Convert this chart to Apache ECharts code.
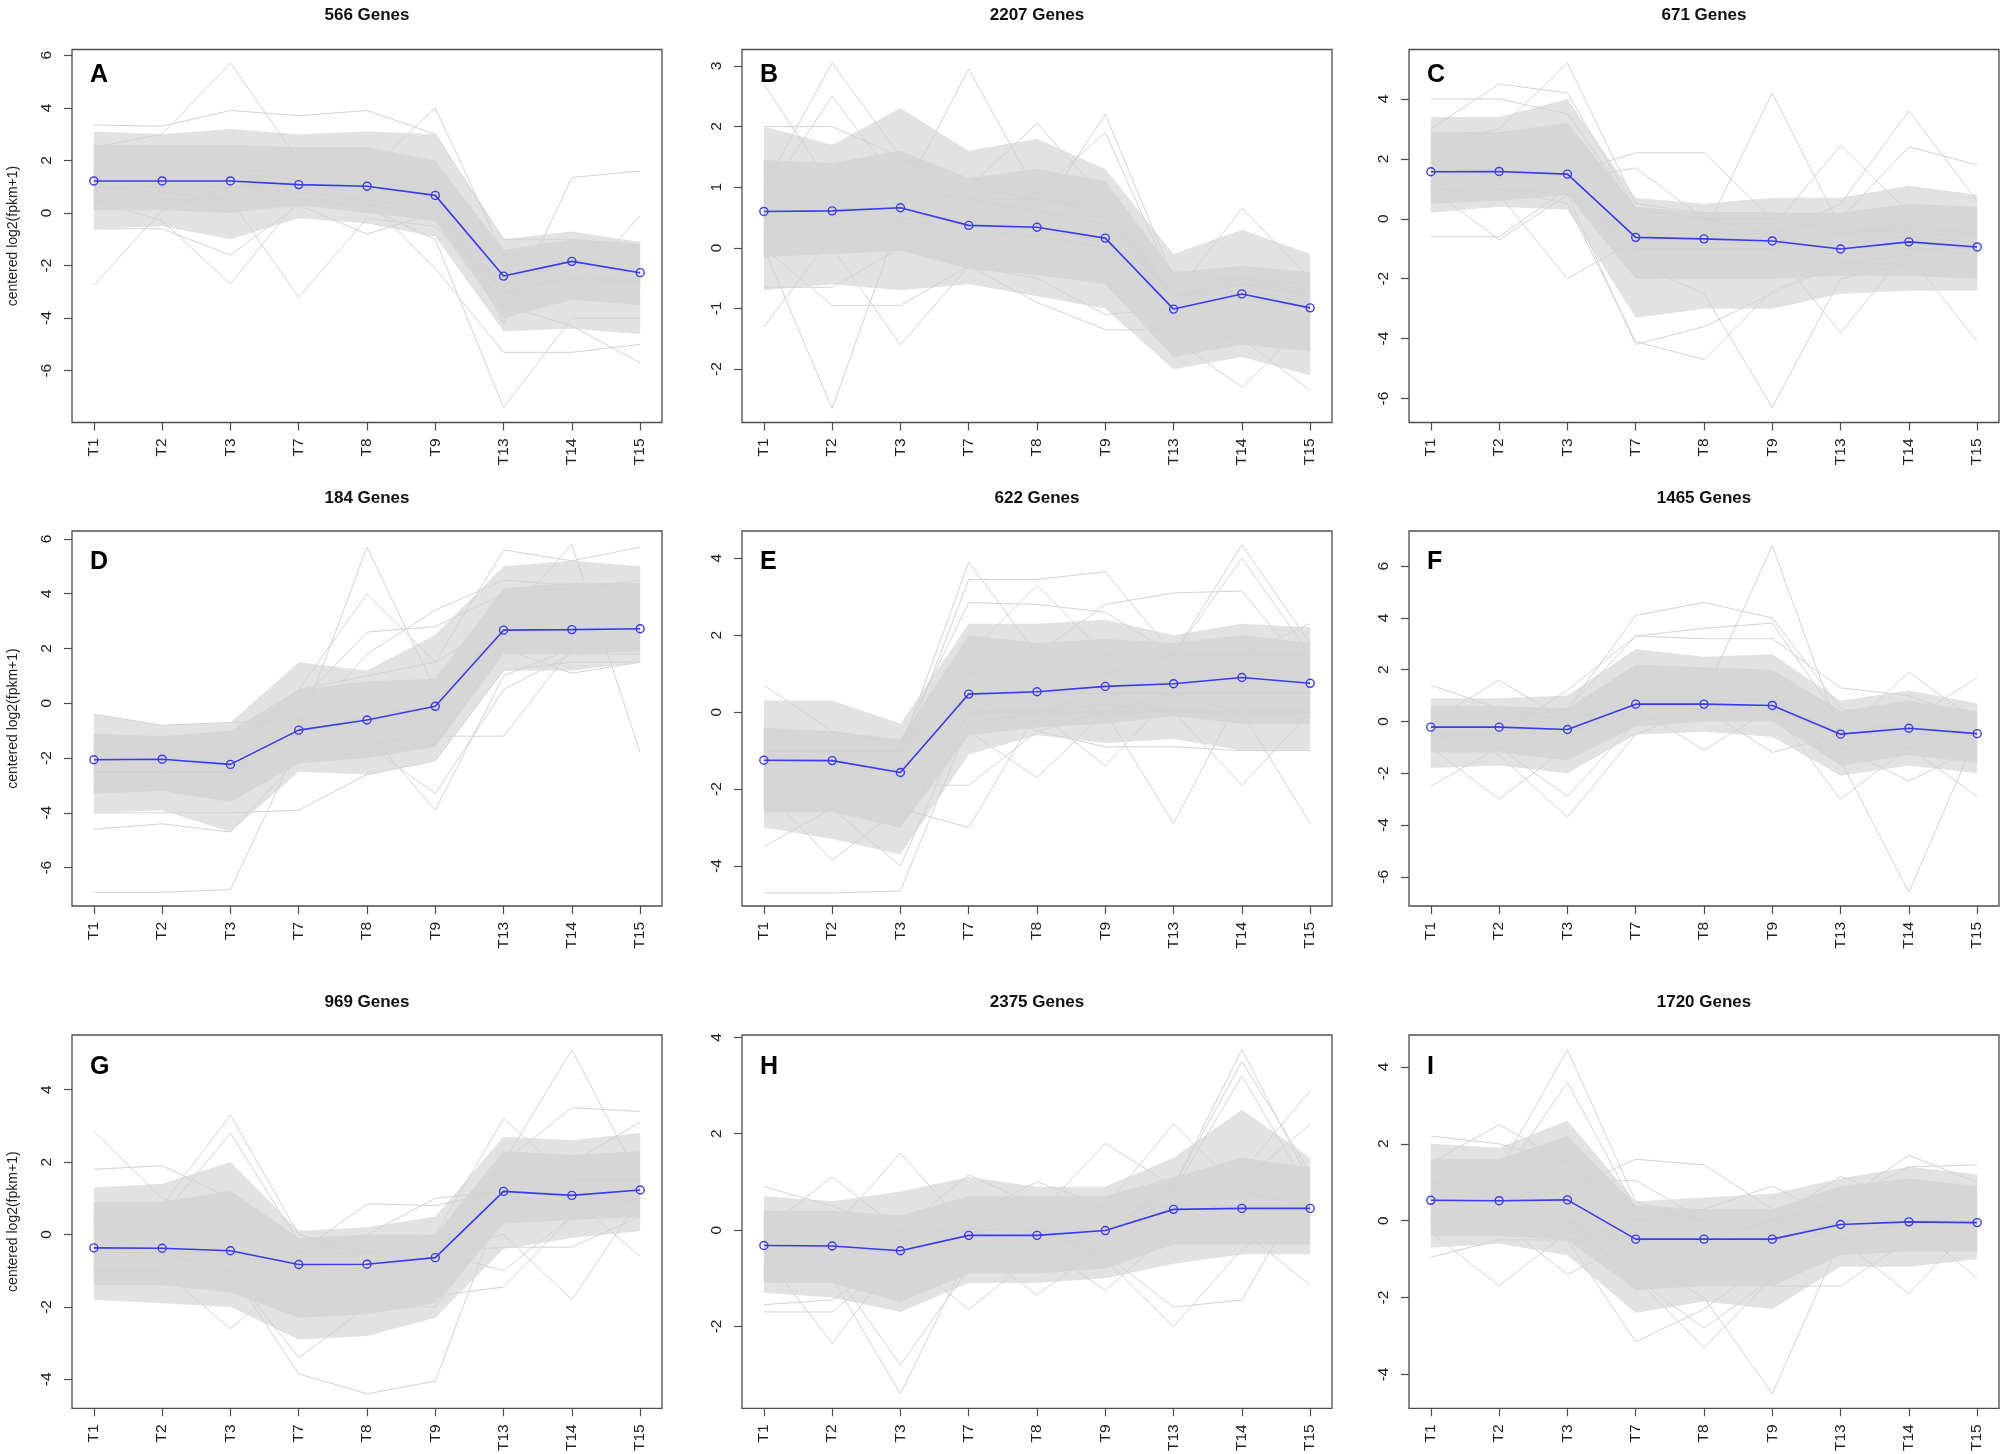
<!DOCTYPE html>
<html>
<head>
<meta charset="utf-8">
<script src="https://cdn.jsdelivr.net/npm/echarts@6/dist/echarts.min.js"></script>
<style>
  html, body { margin: 0; padding: 0; background: #fff; }
  #main { width: 2008px; height: 1454px; }
</style>
</head>
<body>
<div id="main"></div>
<script>
// time points and panel labels
const cats = ['T1', 'T2', 'T3', 'T7', 'T8', 'T9', 'T13', 'T14', 'T15'];
const geneCounts = [566, 2207, 671, 184, 622, 1465, 969, 2375, 1720];
const letters = ['A', 'B', 'C', 'D', 'E', 'F', 'G', 'H', 'I'];
const yMin = [-7.97, -2.88, -6.80, -7.40, -5.04, -7.13, -4.80, -3.70, -4.88];
const yMax = [6.22, 3.27, 5.65, 6.29, 4.71, 7.36, 5.51, 4.05, 4.83];
const yTicks = [
  [-6, -4, -2, 0, 2, 4, 6], [-2, -1, 0, 1, 2, 3], [-6, -4, -2, 0, 2, 4],
  [-6, -4, -2, 0, 2, 4, 6], [-4, -2, 0, 2, 4], [-6, -4, -2, 0, 2, 4, 6],
  [-4, -2, 0, 2, 4], [-2, 0, 2, 4], [-4, -2, 0, 2, 4]
];

// cluster mean profiles (blue)
const meanA = [1.22, 1.22, 1.22, 1.08, 1.02, 0.67, -2.40, -1.84, -2.27];
const meanB = [0.60, 0.61, 0.66, 0.37, 0.34, 0.16, -1.01, -0.76, -0.99];
const meanC = [1.57, 1.58, 1.49, -0.62, -0.67, -0.74, -1.01, -0.77, -0.94];
const meanD = [-2.06, -2.04, -2.23, -0.98, -0.61, -0.11, 2.67, 2.69, 2.72];
const meanE = [-1.25, -1.26, -1.57, 0.47, 0.53, 0.67, 0.74, 0.90, 0.75];
const meanF = [-0.22, -0.22, -0.31, 0.67, 0.67, 0.62, -0.49, -0.26, -0.47];
const meanG = [-0.37, -0.38, -0.45, -0.83, -0.82, -0.64, 1.19, 1.08, 1.23];
const meanH = [-0.32, -0.33, -0.43, -0.11, -0.11, -0.01, 0.43, 0.45, 0.45];
const meanI = [0.53, 0.52, 0.54, -0.48, -0.48, -0.48, -0.10, -0.03, -0.05];

// dense grey core of gene profiles (upper / lower edge)
const coreHiA = [2.6, 2.6, 2.6, 2.5, 2.5, 2.0, -1.4, -1.0, -1.2];
const coreLoA = [0.1, 0.1, 0.0, 0.3, 0.0, -0.3, -4.0, -3.3, -3.5];
const coreHiB = [1.45, 1.4, 1.6, 1.15, 1.3, 1.1, -0.4, -0.3, -0.4];
const coreLoB = [-0.15, -0.1, -0.05, -0.35, -0.45, -0.6, -1.8, -1.6, -1.7];
const coreHiC = [2.9, 2.9, 3.2, 0.4, 0.2, 0.2, 0.2, 0.5, 0.4];
const coreLoC = [0.5, 0.6, 0.8, -2.0, -2.0, -2.0, -1.9, -1.9, -2.0];
const coreHiD = [-1.1, -1.2, -1.0, 0.5, 0.8, 0.9, 4.2, 4.4, 4.4];
const coreLoD = [-3.3, -3.2, -3.6, -2.2, -2.0, -1.6, 1.8, 1.8, 1.9];
const coreHiE = [-0.4, -0.5, -0.7, 2.0, 1.8, 1.9, 1.8, 2.0, 1.8];
const coreLoE = [-2.6, -2.6, -3.0, -0.6, -0.4, -0.3, -0.1, -0.3, -0.3];
const coreHiF = [0.6, 0.6, 0.5, 2.2, 2.1, 2.0, 0.4, 0.8, 0.4];
const coreLoF = [-1.2, -1.2, -1.5, -0.2, 0.0, 0.0, -1.7, -1.3, -1.6];
const coreHiG = [0.9, 0.9, 1.2, -0.1, 0.0, 0.0, 2.3, 2.2, 2.3];
const coreLoG = [-1.4, -1.4, -1.6, -2.3, -2.2, -1.9, 0.3, 0.4, 0.5];
const coreHiH = [0.4, 0.4, 0.3, 0.7, 0.7, 0.7, 1.1, 1.5, 1.3];
const coreLoH = [-1.1, -1.1, -1.5, -0.9, -0.9, -0.8, -0.3, -0.3, -0.3];
const coreHiI = [1.6, 1.6, 2.2, 0.4, 0.3, 0.3, 0.9, 1.1, 0.9];
const coreLoI = [-0.4, -0.4, -0.5, -1.8, -1.7, -1.7, -0.9, -0.8, -0.8];

// thinner fringe around the core
const fringeHiA = [3.1, 3.0, 3.2, 3.0, 3.1, 3.0, -1.0, -0.7, -1.1];
const fringeLoA = [-0.6, -0.5, -1.0, -0.2, -0.4, -0.9, -4.5, -4.4, -4.6];
const fringeHiB = [2.0, 1.7, 2.3, 1.6, 1.8, 1.3, -0.1, 0.3, -0.1];
const fringeLoB = [-0.7, -0.6, -0.7, -0.6, -0.8, -1.0, -2.0, -1.8, -2.1];
const fringeHiC = [3.4, 3.4, 4.0, 0.7, 0.5, 0.7, 0.7, 1.1, 0.8];
const fringeLoC = [0.2, 0.4, 0.3, -3.3, -3.0, -3.0, -2.5, -2.4, -2.4];
const fringeHiD = [-0.4, -0.8, -0.7, 1.5, 1.2, 2.5, 5.0, 5.2, 5.0];
const fringeLoD = [-4.0, -3.9, -4.7, -2.5, -2.6, -2.1, 1.2, 1.2, 1.5];
const fringeHiE = [0.3, 0.3, -0.3, 2.3, 2.3, 2.4, 2.0, 2.3, 2.2];
const fringeLoE = [-3.0, -3.3, -3.7, -1.1, -0.6, -0.8, -0.7, -1.0, -1.0];
const fringeHiF = [0.9, 0.9, 1.0, 2.8, 2.5, 2.6, 0.8, 1.2, 0.7];
const fringeLoF = [-1.8, -1.7, -2.0, -0.5, -0.4, -0.6, -2.1, -1.7, -2.0];
const fringeHiG = [1.3, 1.4, 2.0, 0.1, 0.2, 0.5, 2.7, 2.6, 2.8];
const fringeLoG = [-1.8, -1.9, -2.0, -2.9, -2.8, -2.3, -0.4, -0.1, 0.1];
const fringeHiH = [0.7, 0.6, 0.8, 1.1, 0.9, 0.9, 1.5, 2.5, 1.5];
const fringeLoH = [-1.3, -1.4, -1.7, -1.1, -1.1, -1.0, -0.7, -0.5, -0.5];
const fringeHiI = [2.0, 1.9, 2.6, 0.5, 0.6, 0.7, 1.1, 1.4, 1.2];
const fringeLoI = [-0.7, -0.6, -0.9, -2.4, -2.1, -2.3, -1.2, -1.2, -1.0];

// individual outlying gene profiles
const linesA = [
  [-2.75, 0.1, 1.0, 1.2, 1.0, 0.6, -2.5, -2.0, -2.3],
  [2.5, 3.0, 5.7, 2.0, 2.2, 1.5, -2.0, -1.8, -2.0],
  [0.5, -0.3, -2.7, 0.5, 0.5, 0.2, -2.8, -2.5, -2.6],
  [1.0, 0.8, 0.5, -3.2, -0.2, -0.5, -3.0, -2.5, -2.7],
  [3.35, 3.3, 3.9, 3.7, 3.9, 3.0, -1.0, -1.0, -1.2],
  [1.5, 1.5, 1.5, 1.8, 1.5, 4.0, -1.6, -1.5, -1.5],
  [0.5, 0.5, 0.5, 0.5, 0.2, -1.0, -7.4, -4.0, -4.0],
  [1.0, 1.0, 1.0, 0.8, 0.5, -2.1, -5.3, -5.3, -5.0],
  [1.5, 1.5, 1.5, 1.3, 1.2, 0.8, -4.2, 1.35, 1.6],
  [0.5, 0.5, 0.5, 0.5, 0.3, 0.0, -3.5, -4.3, -5.7],
  [1.0, 1.0, 1.0, 1.0, 0.8, 0.5, -3.0, -3.0, -0.1],
  [-0.6, -0.6, -1.6, 0.3, -0.8, 0.0, -3.0, -2.5, -2.5]
];
const linesB = [
  [2.7, 1.0, 1.5, 0.8, 0.6, 0.5, -0.8, -0.6, -0.8],
  [1.0, 3.05, 1.5, 1.0, 0.8, 0.6, -0.8, -0.5, -0.8],
  [0.8, 2.5, 1.0, 0.8, 0.6, 0.4, -0.8, -0.6, -0.8],
  [0.0, -2.65, 0.5, 0.3, 0.2, 0.0, -1.0, -0.8, -1.0],
  [-1.3, 0.2, 0.3, 0.2, 0.2, 0.0, -1.0, -0.8, -1.0],
  [0.2, 0.0, -1.6, -0.3, -0.2, -0.2, -1.2, -1.0, -1.2],
  [0.5, 0.5, 0.8, 2.95, 0.9, 0.5, -1.0, -0.8, -1.0],
  [0.5, 0.5, 0.5, 1.0, 2.05, 0.8, -0.8, -0.7, -0.9],
  [0.5, 0.5, 0.5, 0.5, 0.5, 2.2, -0.5, -0.5, -0.7],
  [0.4, 0.4, 0.4, 0.4, 0.9, 1.9, -0.6, -0.5, -0.6],
  [0.6, 0.6, 0.6, 0.4, 0.3, 0.1, -0.8, 0.65, -0.5],
  [0.6, 0.6, 0.6, 0.4, 0.3, 0.1, -1.5, -2.3, -1.2],
  [0.6, 0.6, 0.6, 0.4, 0.3, 0.1, -1.5, -1.5, -2.35],
  [0.0, -0.95, -0.95, -0.3, -0.9, -1.35, -1.35, -1.5, -1.5],
  [2.0, 2.0, 1.5, 0.8, 0.8, 0.7, -0.8, -0.6, -0.8],
  [-0.65, -0.65, 0.0, -0.3, -0.5, -1.1, -1.0, -1.2, -1.3]
];
const linesC = [
  [4.0, 4.0, 3.5, 0.3, 0.0, 0.0, -0.5, -0.3, -0.5],
  [3.0, 4.5, 4.2, 0.3, 0.0, 0.0, -0.5, -0.3, -0.5],
  [2.5, 3.0, 5.2, 0.5, 0.2, 0.2, -0.4, -0.2, -0.4],
  [1.0, 0.8, -2.0, -0.7, -0.7, -0.7, -1.0, -0.8, -1.0],
  [-0.6, -0.6, 1.0, -0.8, -0.8, -0.8, -1.0, -0.8, -1.0],
  [1.0, -0.7, 0.8, -1.0, -1.0, -1.0, -1.2, -1.0, -1.2],
  [1.5, 1.5, 1.5, 2.2, 2.2, 0.0, -0.5, -0.3, -0.5],
  [1.5, 1.5, 1.3, 1.7, 0.0, -0.5, -0.8, -0.6, -0.8],
  [1.0, 1.0, 0.5, -4.1, -4.7, -2.4, -1.5, -1.5, -1.5],
  [1.0, 1.0, 0.8, -4.2, -3.6, -2.5, -1.5, -1.5, -1.5],
  [1.5, 1.5, 1.5, -0.5, -0.5, 4.2, -0.3, -0.5, -0.6],
  [1.0, 1.0, 1.0, -1.5, -2.5, -6.3, -2.0, -1.5, -1.5],
  [1.5, 1.5, 1.5, -0.5, -0.5, -0.3, 2.45, 0.2, 0.0],
  [1.0, 1.0, 1.0, -1.0, -1.0, -1.0, -3.8, -1.0, -1.0],
  [1.5, 1.5, 1.5, -0.5, -0.5, -0.5, 0.5, 3.6, 0.6],
  [1.5, 1.5, 1.5, -0.5, -0.5, -0.5, 0.0, 2.4, 1.8],
  [1.0, 1.0, 1.0, -1.0, -1.0, -1.0, -1.5, -1.2, -4.1]
];
const linesD = [
  [-4.6, -4.4, -4.7, -2.0, -1.8, -1.5, 2.0, 2.0, 2.0],
  [-6.9, -6.9, -6.8, -1.5, -1.5, -1.0, 2.2, 2.2, 2.2],
  [-2.0, -2.0, -2.0, -1.0, 5.7, 0.5, 2.5, 2.5, 2.5],
  [-2.0, -2.0, -2.0, 0.5, 4.0, 1.5, 3.0, 3.0, 3.0],
  [-1.5, -1.5, -1.5, 0.0, 2.6, 2.8, 4.0, 4.2, 4.5],
  [-2.5, -2.5, -2.5, -1.0, 1.8, 3.4, 4.5, 4.3, 4.3],
  [-2.5, -2.5, -2.5, -1.0, -1.0, -3.9, 1.0, 2.0, 2.0],
  [-3.0, -3.0, -3.0, -1.5, -1.5, -3.3, 0.5, 1.8, 1.8],
  [-2.5, -2.5, -2.5, -1.5, -1.5, -1.2, -1.2, 2.0, 2.0],
  [-1.5, -1.5, -1.5, 0.5, 1.0, 1.5, 5.6, 5.2, 5.7],
  [-2.0, -2.0, -2.0, -1.0, -0.5, 0.0, 3.0, 5.8, -1.8],
  [-2.5, -2.5, -2.5, -1.0, -0.5, 0.0, 2.0, 1.1, 1.5],
  [-0.4, -0.8, -0.7, -0.6, -0.2, 0.5, 3.5, 3.5, 3.5],
  [-4.0, -4.0, -4.0, -3.9, -2.6, -2.1, 1.2, 1.5, 1.5]
];
const linesE = [
  [0.7, -0.5, -0.8, 1.0, 1.0, 1.0, 1.0, 1.0, 1.0],
  [-3.5, -2.5, -3.0, 0.0, 0.0, 0.0, 0.0, 0.0, 0.0],
  [-4.7, -4.7, -4.65, -0.3, 0.0, 0.2, 0.0, 0.0, 0.0],
  [-2.0, -3.85, -2.5, 0.5, 0.5, 0.5, 0.5, 0.5, 0.5],
  [-2.5, -2.5, -4.0, 0.0, 0.0, 0.0, 0.0, 0.0, 0.0],
  [-1.0, -1.0, -1.0, 3.9, 1.5, 1.5, 1.5, 1.5, 1.5],
  [-1.0, -1.0, -1.2, 3.45, 3.45, 3.65, 1.5, 1.5, 1.2],
  [-0.5, -0.5, -0.8, 2.85, 2.8, 2.6, 1.5, 1.5, 1.5],
  [-2.0, -2.0, -2.5, -3.0, 0.0, 0.5, 0.5, 0.5, 0.5],
  [-2.0, -2.0, -1.9, -1.9, -0.5, 0.0, 0.5, 0.5, 0.5],
  [-1.0, -1.0, -1.0, 1.5, 3.3, 1.5, 1.0, 1.0, 1.0],
  [-1.5, -1.5, -1.5, -0.5, -1.7, 0.0, 0.5, 0.5, 0.5],
  [-1.5, -1.5, -1.5, 0.0, 0.0, -1.4, 0.5, 0.5, 0.5],
  [-1.0, -1.0, -1.0, 1.0, 1.5, 2.8, 3.1, 3.15, 1.0],
  [-1.5, -1.5, -1.5, 0.5, 0.5, 0.0, -2.9, 0.5, 0.5],
  [-1.0, -1.0, -1.0, 1.0, 1.0, 1.0, 1.5, 4.35, 1.8],
  [-1.0, -1.0, -1.0, 1.0, 1.0, 1.0, 1.5, 4.0, 1.5],
  [-1.5, -1.5, -1.5, 0.5, 0.5, 0.5, 0.0, -1.9, 0.0],
  [-1.5, -1.5, -1.5, 0.5, 0.5, 0.5, 0.5, 0.0, -2.9],
  [-1.0, -1.0, -1.0, 1.0, 1.0, 1.0, 1.0, 1.5, 2.3],
  [-1.0, -1.0, -1.0, 0.5, -0.5, -0.9, -0.9, -1.0, -1.0]
];
const linesF = [
  [1.4, 0.5, 0.0, 0.8, 0.8, 0.8, -0.5, -0.3, -0.5],
  [-2.5, -1.0, -0.5, 0.5, 0.5, 0.5, -0.5, -0.3, -0.5],
  [0.0, 1.6, 0.0, 0.8, 0.8, 0.8, -0.5, -0.3, -0.5],
  [-1.0, -3.0, -1.0, 0.5, 0.5, 0.5, -0.5, -0.3, -0.5],
  [-0.5, -1.3, -3.7, -0.5, 0.5, 0.5, -0.5, -0.3, -0.5],
  [-0.5, -1.0, -2.9, 0.0, 0.5, 0.5, -0.5, -0.3, -0.5],
  [0.0, 0.0, 0.5, 4.1, 4.6, 4.0, 0.5, 0.0, -0.5],
  [0.0, 0.0, 0.5, 3.3, 3.6, 3.8, 0.0, -0.3, -0.5],
  [0.0, 0.0, 0.0, 1.0, 1.0, 6.8, -0.5, -0.3, -0.5],
  [-0.5, -0.5, -0.5, 0.5, -1.1, 0.5, -0.5, -0.5, -0.5],
  [-0.5, -0.5, -0.5, 0.5, 0.5, -1.2, -0.5, -0.5, -0.5],
  [-0.5, -0.5, -0.5, 0.5, 0.5, 0.5, -3.0, -1.0, -0.5],
  [-0.5, -0.5, -0.5, 0.5, 0.5, 0.5, -1.5, -6.6, -0.5],
  [-0.5, -0.5, -0.5, 0.5, 0.5, 0.5, -0.5, 1.9, 0.0],
  [-0.5, -0.5, -0.5, 0.5, 0.5, 0.5, -1.0, -2.3, -1.0],
  [-0.5, -0.5, -0.5, 0.5, 0.5, 0.5, -0.5, 0.0, 1.7],
  [-0.5, -0.5, -0.5, 0.5, 0.5, 0.5, -1.0, -1.0, -2.9],
  [-0.5, -0.5, 1.2, 3.3, 3.2, 3.2, 1.3, 1.0, 0.0]
];
const linesG = [
  [2.85, 1.0, 0.5, -0.5, -0.5, -0.5, 1.0, 1.0, 1.0],
  [1.8, 1.9, 1.0, -0.5, -0.5, -0.5, 1.0, 1.0, 1.0],
  [0.5, 0.8, 3.3, 0.0, -0.5, -0.5, 1.0, 1.0, 1.0],
  [0.5, 0.5, 2.8, -0.2, -0.5, -0.5, 1.0, 1.0, 1.0],
  [-1.0, -1.0, -2.6, -1.0, -1.0, -1.0, 1.0, 1.0, 1.0],
  [-0.5, -0.5, -1.0, -3.85, -4.4, -4.05, 1.0, 1.0, 1.0],
  [-0.5, -0.5, -1.0, -3.4, -2.0, -2.0, 0.5, 1.0, 1.0],
  [-0.5, -0.5, -0.5, -0.5, 0.85, 0.8, 1.2, 1.0, 1.0],
  [-0.5, -0.5, -0.5, -0.5, 0.0, 1.0, 1.2, 1.0, 1.0],
  [-0.5, -0.5, -0.5, -0.5, -0.5, 0.0, 3.2, 1.5, 1.5],
  [-1.0, -1.0, -1.0, -1.5, -1.5, -1.7, -1.45, 0.5, 1.0],
  [-0.5, -0.5, -0.5, -1.0, -1.0, -0.5, -1.0, 0.5, 1.0],
  [-0.5, -0.5, -0.5, -0.5, -0.5, -0.5, 2.0, 5.1, 1.5],
  [-0.5, -0.5, -0.5, -0.5, -0.5, -0.5, 2.0, 3.5, 3.4],
  [-0.5, -0.5, -0.5, -0.5, -0.5, -0.5, 0.0, -1.8, 1.0],
  [-0.5, -0.5, -0.5, -0.5, -0.5, -0.5, -0.35, -0.35, 0.5],
  [-0.5, -0.5, -0.5, -0.5, -0.5, -0.5, 1.0, 1.0, -0.6],
  [-0.5, -0.5, -0.5, -0.5, -0.5, -0.5, 1.5, 2.0, 3.1]
];
const linesH = [
  [0.9, 0.5, 0.0, 0.0, 0.0, 0.0, 0.5, 0.5, 0.5],
  [-1.55, -1.45, -0.5, 0.0, 0.0, 0.0, 0.5, 0.5, 0.5],
  [-1.7, -1.7, -0.5, 0.0, 0.0, 0.0, 0.5, 0.5, 0.5],
  [0.0, 1.1, 0.0, 0.0, 0.0, 0.0, 0.5, 0.5, 0.5],
  [-0.5, -2.35, -0.5, 0.0, 0.0, 0.0, 0.5, 0.5, 0.5],
  [-0.3, 0.0, 1.6, 0.0, 0.0, 0.0, 0.5, 0.5, 0.5],
  [-0.3, -1.0, -3.4, -0.5, 0.0, 0.0, 0.5, 0.5, 0.5],
  [-0.3, -0.8, -2.8, -0.8, -0.2, 0.0, 0.5, 0.5, 0.5],
  [-0.3, -0.3, 0.0, 1.15, 0.5, 0.5, 0.5, 0.5, 0.5],
  [-0.3, -0.3, -0.5, -1.65, -0.5, 0.0, 0.5, 0.5, 0.5],
  [-0.3, -0.3, -0.5, 0.3, 1.0, 0.5, 0.5, 0.5, 0.5],
  [-0.3, -0.3, -0.5, -0.3, -1.35, -0.3, 0.5, 0.5, 0.5],
  [-0.3, -0.3, -0.5, 0.0, 0.3, 1.8, 0.9, 0.8, 0.5],
  [-0.3, -0.3, -0.5, 0.0, -0.3, -1.25, 0.0, 0.3, 0.5],
  [-0.3, -0.3, -0.5, 0.0, 0.0, 0.5, 2.2, 0.8, 0.5],
  [-0.3, -0.3, -0.5, 0.0, 0.0, -0.6, -2.0, -0.4, 0.5],
  [-0.3, -0.3, -0.5, 0.0, 0.0, -0.5, -1.6, -1.45, 1.0],
  [-0.3, -0.3, -0.5, 0.0, 0.0, 0.0, 0.9, 3.75, 1.0],
  [-0.3, -0.3, -0.5, 0.0, 0.0, 0.0, 0.9, 3.5, 1.2],
  [-0.3, -0.3, -0.5, 0.0, 0.0, 0.0, 0.8, 3.2, 0.8],
  [-0.3, -0.3, -0.5, 0.0, 0.0, 0.0, 0.5, 1.2, 2.9],
  [-0.3, -0.3, -0.5, 0.0, 0.0, 0.0, 0.5, 1.0, 2.2],
  [-0.3, -0.3, -0.5, 0.0, 0.0, 0.0, 0.5, 0.0, -1.15]
];
const linesI = [
  [2.2, 2.0, 1.5, 0.0, 0.0, 0.0, 0.0, 0.0, 0.0],
  [-0.95, -0.5, -0.5, -0.5, -0.5, -0.5, 0.0, 0.0, 0.0],
  [1.5, 2.5, 1.5, 0.0, 0.0, 0.0, 0.0, 0.0, 0.0],
  [-0.3, -1.7, -0.3, -0.5, -0.5, -0.5, 0.0, 0.0, 0.0],
  [1.0, 1.3, 4.45, 0.5, 0.0, 0.0, 0.0, 0.0, 0.0],
  [1.0, 1.0, 3.6, 0.3, 0.0, 0.0, 0.0, 0.0, 0.0],
  [0.0, 0.0, -1.4, -0.5, -0.5, -0.5, 0.0, 0.0, 0.0],
  [0.5, 0.5, 0.8, 1.6, 1.45, 0.3, 0.0, 0.0, 0.0],
  [0.5, 0.5, 1.0, 1.05, 0.0, 0.0, 0.0, 0.0, 0.0],
  [0.0, 0.0, -0.5, -3.15, -2.3, -1.0, 0.0, 0.0, 0.0],
  [0.0, 0.0, 0.0, -1.5, -3.3, -1.5, -0.5, 0.0, 0.0],
  [0.0, 0.0, 0.0, -1.5, -2.8, -1.5, -0.5, 0.0, 0.0],
  [0.0, 0.0, 0.0, -1.0, -2.0, -4.5, -0.5, 0.0, 0.0],
  [0.0, 0.0, 0.0, 0.0, 0.3, 0.9, 0.0, 0.0, 0.0],
  [0.0, 0.0, 0.0, -0.5, -0.5, 0.0, 1.15, 0.5, 0.5],
  [0.0, 0.0, 0.0, -0.5, -0.5, -1.7, -1.7, -0.5, 0.0],
  [0.0, 0.0, 0.0, -0.5, -0.5, 0.0, 0.5, 1.7, 1.0],
  [0.0, 0.0, 0.0, -0.5, -0.5, 0.0, -0.5, -1.9, 0.0],
  [0.0, 0.0, 0.0, -0.5, -0.5, 0.0, 0.5, 1.4, 1.45],
  [0.0, 0.0, 0.0, -0.5, -0.5, 0.0, 0.0, 0.0, -1.5]
];

const means = [meanA, meanB, meanC, meanD, meanE, meanF, meanG, meanH, meanI];
const coreHi = [coreHiA, coreHiB, coreHiC, coreHiD, coreHiE, coreHiF, coreHiG, coreHiH, coreHiI];
const coreLo = [coreLoA, coreLoB, coreLoC, coreLoD, coreLoE, coreLoF, coreLoG, coreLoH, coreLoI];
const fringeHi = [fringeHiA, fringeHiB, fringeHiC, fringeHiD, fringeHiE, fringeHiF, fringeHiG, fringeHiH, fringeHiI];
const fringeLo = [fringeLoA, fringeLoB, fringeLoC, fringeLoD, fringeLoE, fringeLoF, fringeLoG, fringeLoH, fringeLoI];
const geneLines = [linesA, linesB, linesC, linesD, linesE, linesF, linesG, linesH, linesI];

// layout of the 3x3 panels (pixels)
const colLeft = [72, 742, 1409];
const rowTop = [49.5, 531, 1035];
const rowH = [373, 375, 375];
const boxW = 590;
const titleY = [15, 498, 1002];
const letterY = [75, 562, 1067];

const GREY = '#d6d6d6';
const LINE_GREY = '#d3d3d3';
const BLUE = '#3a3af0';
const FONT = '"Liberation Sans", Arial, sans-serif';

var myChart = echarts.init(document.getElementById('main'), null, { renderer: 'canvas' });

function bandSeries(p, hi, lo, opacity) {
  return {
    type: 'custom',
    xAxisIndex: p,
    yAxisIndex: p,
    silent: true,
    z: 1,
    data: [[1, 0]],
    renderItem: function (params, api) {
      const pts = [];
      hi.forEach(function (v, i) { pts.push(api.coord([i + 1, v])); });
      for (let i = lo.length - 1; i >= 0; i--) pts.push(api.coord([i + 1, lo[i]]));
      return { type: 'polygon', shape: { points: pts }, style: { fill: GREY, opacity: opacity } };
    }
  };
}

const grids = [], xAxes = [], yAxes = [], series = [], texts = [];
for (let p = 0; p < 9; p++) {
  const r = Math.floor(p / 3), c = p % 3;
  grids.push({
    left: colLeft[c], top: rowTop[r], width: boxW, height: rowH[r],
    show: true, borderColor: '#4d4d4d', borderWidth: 1.3, backgroundColor: 'transparent'
  });
  xAxes.push({
    type: 'value', gridIndex: p, min: 0.68, max: 9.32,
    axisLine: { show: false, onZero: false },
    splitLine: { show: false },
    axisTick: { show: true, length: 8, customValues: [1, 2, 3, 4, 5, 6, 7, 8, 9], lineStyle: { color: '#4d4d4d', width: 1.2 } },
    axisLabel: {
      customValues: [1, 2, 3, 4, 5, 6, 7, 8, 9],
      rotate: 90, margin: 16, fontSize: 15.5, fontFamily: FONT, color: '#222',
      formatter: function (v) { return cats[Math.round(v) - 1]; }
    }
  });
  yAxes.push({
    type: 'value', gridIndex: p, min: yMin[p], max: yMax[p],
    name: c === 0 ? 'centered log2(fpkm+1)' : '',
    nameLocation: 'middle', nameGap: 52, nameRotate: 90,
    nameTextStyle: { fontSize: 14, fontFamily: FONT, color: '#222' },
    axisLine: { show: false, onZero: false },
    splitLine: { show: false },
    axisTick: { show: true, length: 8, customValues: yTicks[p], lineStyle: { color: '#4d4d4d', width: 1.2 } },
    axisLabel: {
      customValues: yTicks[p],
      rotate: 90, margin: 17, fontSize: 15.5, fontFamily: FONT, color: '#222'
    }
  });

  series.push(bandSeries(p, fringeHi[p], fringeLo[p], 0.7));
  series.push(bandSeries(p, coreHi[p], coreLo[p], 1));
  geneLines[p].forEach(function (vals) {
    series.push({
      type: 'line', xAxisIndex: p, yAxisIndex: p, silent: true, z: 2,
      symbol: 'none',
      data: vals.map(function (v, i) { return [i + 1, v]; }),
      lineStyle: { color: LINE_GREY, width: 1 }
    });
  });
  series.push({
    type: 'line', xAxisIndex: p, yAxisIndex: p, z: 3,
    symbol: 'circle', symbolSize: 8,
    data: means[p].map(function (v, i) { return [i + 1, v]; }),
    lineStyle: { color: BLUE, width: 1.6 },
    itemStyle: { color: 'transparent', borderColor: BLUE, borderWidth: 1.4 }
  });

  texts.push({
    type: 'text', x: colLeft[c] + boxW / 2, y: titleY[r], z: 10,
    style: { text: geneCounts[p] + ' Genes', align: 'center', verticalAlign: 'middle',
      fontSize: 17, fontWeight: 'bold', fontFamily: FONT, fill: '#111' }
  });
  texts.push({
    type: 'text', x: colLeft[c] + 18, y: letterY[r], z: 10,
    style: { text: letters[p], align: 'left', verticalAlign: 'middle',
      fontSize: 25, fontWeight: 'bold', fontFamily: FONT, fill: '#000' }
  });
}

var option = {
  animation: false,
  backgroundColor: '#fff',
  grid: grids,
  xAxis: xAxes,
  yAxis: yAxes,
  series: series,
  graphic: texts
};

myChart.setOption(option);
</script>
</body>
</html>
